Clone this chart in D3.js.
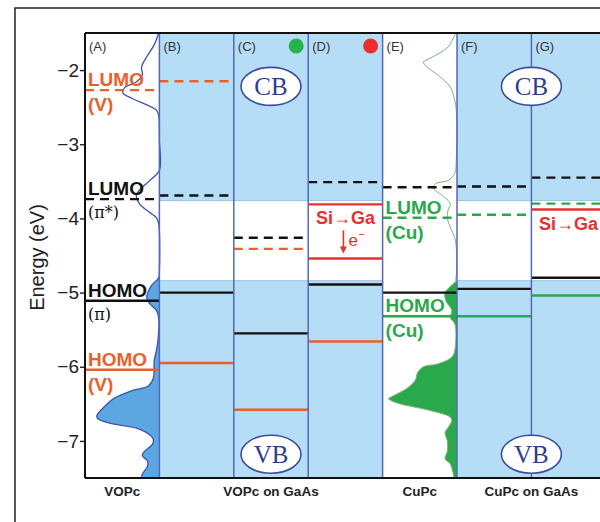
<!DOCTYPE html>
<html>
<head>
<meta charset="utf-8">
<script src="https://cdn.jsdelivr.net/npm/d3@7"></script>
<style>
  body { margin: 0; background: #fff; }
  svg { display: block; font-family: Arial, "Liberation Sans", sans-serif; }
</style>
</head>
<body>
<div id="chart"></div>
<script>
// ---------- data
const columns = ["A", "B", "C", "D", "E", "F", "G"];
const substrateCols = ["B", "C", "D", "F", "G"];
const energyTicks = [-7, -6, -5, -4, -3, -2];

// GaAs band edges (eV)
const cbEdge = -3.76;
const vbEdge = -4.84;

// molecular levels: kind V = vanadyl, pi = Pc ring, Cu = copper, Si = dopant
const levels = [
  { col: "A", e: -2.27, kind: "V",  state: "LUMO" },
  { col: "A", e: -3.74, kind: "pi", state: "LUMO" },
  { col: "A", e: -5.11, kind: "pi", state: "HOMO" },
  { col: "A", e: -6.04, kind: "V",  state: "HOMO" },
  { col: "B", e: -2.15, kind: "V",  state: "LUMO" },
  { col: "B", e: -3.69, kind: "pi", state: "LUMO" },
  { col: "B", e: -5.00, kind: "pi", state: "HOMO" },
  { col: "B", e: -5.95, kind: "V",  state: "HOMO" },
  { col: "C", e: -4.26, kind: "pi", state: "LUMO" },
  { col: "C", e: -4.41, kind: "V",  state: "LUMO" },
  { col: "C", e: -5.55, kind: "pi", state: "HOMO" },
  { col: "C", e: -6.58, kind: "V",  state: "HOMO" },
  { col: "D", e: -3.51, kind: "pi", state: "LUMO" },
  { col: "D", e: -3.81, kind: "Si", state: "Si" },
  { col: "D", e: -4.54, kind: "Si", state: "Si" },
  { col: "D", e: -4.89, kind: "pi", state: "HOMO" },
  { col: "D", e: -5.66, kind: "V",  state: "HOMO" },
  { col: "E", e: -3.58, kind: "pi", state: "LUMO" },
  { col: "E", e: -3.99, kind: "Cu", state: "LUMO" },
  { col: "E", e: -5.00, kind: "pi", state: "HOMO" },
  { col: "E", e: -5.32, kind: "Cu", state: "HOMO" },
  { col: "F", e: -3.57, kind: "pi", state: "LUMO" },
  { col: "F", e: -3.95, kind: "Cu", state: "LUMO" },
  { col: "F", e: -4.95, kind: "pi", state: "HOMO" },
  { col: "F", e: -5.32, kind: "Cu", state: "HOMO" },
  { col: "G", e: -3.45, kind: "pi", state: "LUMO" },
  { col: "G", e: -3.80, kind: "Cu", state: "LUMO" },
  { col: "G", e: -3.88, kind: "Si", state: "Si" },
  { col: "G", e: -4.80, kind: "pi", state: "HOMO" },
  { col: "G", e: -5.04, kind: "Cu", state: "HOMO" }
];

// level names written in the molecule panels
const levelNames = [
  { col: "A", e: -2.27, kind: "V",  title: "LUMO", sub: "(V)" },
  { col: "A", e: -3.74, kind: "pi", title: "LUMO", sub: "(\u03c0*)" },
  { col: "A", e: -5.11, kind: "pi", title: "HOMO", sub: "(\u03c0)" },
  { col: "A", e: -6.04, kind: "V",  title: "HOMO", sub: "(V)" },
  { col: "E", e: -3.99, kind: "Cu", title: "LUMO", sub: "(Cu)" },
  { col: "E", e: -5.32, kind: "Cu", title: "HOMO", sub: "(Cu)" }
];

// density of states, [energy, fraction of panel width]
const dosVOPc = [
  [-1.50, 0.01], [-1.66, 0.07], [-1.82, 0.17], [-1.96, 0.24], [-2.07, 0.23],
  [-2.16, 0.31], [-2.24, 0.47], [-2.31, 0.49], [-2.38, 0.37], [-2.47, 0.17],
  [-2.54, 0.04], [-2.61, 0.01], [-2.95, 0.0], [-3.35, 0.0], [-3.49, 0.13],
  [-3.62, 0.27], [-3.69, 0.31], [-3.80, 0.27], [-3.92, 0.13], [-3.99, 0.04],
  [-4.07, 0.01], [-4.70, 0.0], [-4.80, 0.01], [-4.91, 0.11], [-5.07, 0.17],
  [-5.15, 0.13], [-5.24, 0.04], [-5.34, 0.01], [-5.65, 0.02], [-5.78, 0.04],
  [-5.92, 0.07], [-6.15, 0.08], [-6.26, 0.15], [-6.32, 0.36], [-6.42, 0.60],
  [-6.53, 0.73], [-6.66, 0.84], [-6.70, 0.83], [-6.76, 0.67], [-6.84, 0.27],
  [-6.96, 0.09], [-7.04, 0.09], [-7.14, 0.20], [-7.20, 0.23], [-7.27, 0.16],
  [-7.34, 0.16], [-7.45, 0.23], [-7.50, 0.24]
];
const dosCuPc = [
  [-1.50, 0.01], [-1.53, 0.03], [-1.69, 0.12], [-1.84, 0.36], [-1.89, 0.45],
  [-1.96, 0.40], [-2.07, 0.25], [-2.23, 0.09], [-2.41, 0.03], [-2.54, 0.01],
  [-3.22, 0.01], [-3.39, 0.03], [-3.49, 0.12], [-3.53, 0.29], [-3.59, 0.32],
  [-3.69, 0.20], [-3.80, 0.09], [-3.89, 0.12], [-3.99, 0.13], [-4.12, 0.09],
  [-4.26, 0.03], [-4.39, 0.01], [-4.77, 0.01], [-4.86, 0.03], [-5.00, 0.16],
  [-5.11, 0.15], [-5.24, 0.07], [-5.34, 0.09], [-5.42, 0.03], [-5.70, 0.02],
  [-5.86, 0.06], [-5.96, 0.25], [-6.00, 0.45], [-6.08, 0.53], [-6.18, 0.56],
  [-6.29, 0.67], [-6.41, 0.89], [-6.43, 0.92], [-6.49, 0.80], [-6.59, 0.36],
  [-6.68, 0.09], [-6.73, 0.07], [-6.82, 0.12], [-6.89, 0.16], [-7.00, 0.13],
  [-7.14, 0.13], [-7.24, 0.16], [-7.31, 0.09], [-7.50, 0.04]
];

const groupLabels = [
  { label: "VOPc", cols: ["A"] },
  { label: "VOPc on GaAs", cols: ["B", "C", "D"] },
  { label: "CuPc", cols: ["E"] },
  { label: "CuPc on GaAs", cols: ["F", "G"] }
];

// ---------- dimensions
const width = 600, height = 522;
const margin = { top: 33, left: 85, bottom: 44 };
const colW = 74.4;

const svg = d3.select("#chart").append("svg")
  .attr("width", width).attr("height", height);

// outer frame
svg.append("rect")
  .attr("x", 15).attr("y", 8).attr("width", 640).attr("height", 560)
  .attr("fill", "none").attr("stroke", "#222").attr("stroke-width", 1.5);

const x = d3.scaleBand().domain(columns)
  .range([margin.left, margin.left + colW * columns.length]);
const y = d3.scaleLinear().domain([-7.5, -1.5])
  .range([height - margin.bottom, margin.top]);

const color = d3.scaleOrdinal()
  .domain(["V", "pi", "Cu", "Si"])
  .range(["#e9602c", "#111111", "#2aa84c", "#e8312f"]);

const right = margin.left + colW * columns.length;

// ---------- substrate bands
const bands = svg.append("g");
substrateCols.forEach(c => {
  bands.append("rect")
    .attr("x", x(c)).attr("width", x.bandwidth())
    .attr("y", y(-1.5)).attr("height", y(cbEdge) - y(-1.5))
    .attr("fill", "#b6ddf6");
  bands.append("rect")
    .attr("x", x(c)).attr("width", x.bandwidth())
    .attr("y", y(vbEdge)).attr("height", y(-7.5) - y(vbEdge))
    .attr("fill", "#b6ddf6");
  bands.append("line")
    .attr("x1", x(c)).attr("x2", x(c) + x.bandwidth())
    .attr("y1", y(cbEdge)).attr("y2", y(cbEdge))
    .attr("stroke", "#9cc0e0").attr("stroke-width", 1);
  bands.append("line")
    .attr("x1", x(c)).attr("x2", x(c) + x.bandwidth())
    .attr("y1", y(vbEdge)).attr("y2", y(vbEdge))
    .attr("stroke", "#9cc0e0").attr("stroke-width", 1);
});

// ---------- density of states curves (baseline on right edge of panel)
function drawDos(data, col, fillFrom, lineColor, fillColor, lineW) {
  const x0 = x(col) + x.bandwidth();
  const area = d3.area()
    .y(d => y(d[0]))
    .x0(x0)
    .x1(d => x0 - d[1] * x.bandwidth())
    .curve(d3.curveCatmullRom);
  const line = d3.line()
    .y(d => y(d[0]))
    .x(d => x0 - d[1] * x.bandwidth())
    .curve(d3.curveCatmullRom);
  svg.append("path")
    .attr("d", area(data.filter(d => d[0] <= fillFrom)))
    .attr("fill", fillColor);
  svg.append("path")
    .attr("d", line(data))
    .attr("fill", "none").attr("stroke", lineColor).attr("stroke-width", lineW);
}
drawDos(dosVOPc, "A", -4.75, "#3b52ad", "#5ca7e2", 1.3);
drawDos(dosCuPc, "E", -4.8, "#7db27d", "#2aa84c", 1);

// ---------- energy levels
svg.append("g").selectAll("line")
  .data(levels)
  .join("line")
  .attr("x1", d => x(d.col)).attr("x2", d => x(d.col) + x.bandwidth())
  .attr("y1", d => y(d.e)).attr("y2", d => y(d.e))
  .attr("stroke", d => color(d.kind))
  .attr("stroke-width", 2.4)
  .attr("stroke-dasharray", d => d.state === "LUMO" ? "9,6" : null);

// ---------- column separators
svg.append("g").selectAll("line")
  .data(columns.slice(1))
  .join("line")
  .attr("x1", d => x(d)).attr("x2", d => x(d))
  .attr("y1", y(-1.5)).attr("y2", y(-7.5))
  .attr("stroke", "#5468b8").attr("stroke-width", 1.5);

// ---------- level names
const names = svg.append("g");
levelNames.forEach(d => {
  const tx = x(d.col) + 3;
  names.append("text")
    .attr("x", tx).attr("y", y(d.e) - 4)
    .attr("fill", color(d.kind))
    .attr("font-size", 19).attr("font-weight", "bold")
    .text(d.title);
  const isPi = d.sub.includes("\u03c0");
  names.append("text")
    .attr("x", tx).attr("y", y(d.e) + (isPi ? 19 : 21))
    .attr("fill", color(d.kind))
    .attr("font-family", isPi ? "'DejaVu Serif', 'Liberation Serif', serif" : null)
    .attr("font-size", isPi ? 16 : 19)
    .attr("font-weight", isPi ? "normal" : "bold")
    .text(d.sub);
});

// Si -> Ga dopant notes
const siLevels = levels.filter(d => d.kind === "Si");
[siLevels[0], siLevels[2]].forEach(d => {
  svg.append("text")
    .attr("x", x(d.col) + x.bandwidth() / 2).attr("y", y(d.e) + 20)
    .attr("text-anchor", "middle")
    .attr("fill", color("Si"))
    .attr("font-size", 18).attr("font-weight", "bold")
    .text("Si\u2192Ga");
});
{
  const ax = x("D") + x.bandwidth() / 2 - 2;
  const yTop = y(siLevels[0].e) + 26, yBot = y(siLevels[1].e) - 5;
  svg.append("line")
    .attr("x1", ax).attr("x2", ax).attr("y1", yTop).attr("y2", yBot - 5)
    .attr("stroke", color("Si")).attr("stroke-width", 1.6);
  svg.append("path")
    .attr("d", `M${ax - 3.5},${yBot - 7} L${ax + 3.5},${yBot - 7} L${ax},${yBot} Z`)
    .attr("fill", color("Si"));
  svg.append("text")
    .attr("x", ax + 5).attr("y", yTop + 16)
    .attr("fill", color("Si")).attr("font-size", 17)
    .text("e");
  svg.append("text")
    .attr("x", ax + 15).attr("y", yTop + 8)
    .attr("fill", color("Si")).attr("font-size", 11)
    .text("\u2212");
}

// ---------- CB / VB tags
const tags = [
  { text: "CB", e: -2.22, cx: x("C") + x.bandwidth() / 2 },
  { text: "CB", e: -2.22, cx: x("G") },
  { text: "VB", e: -7.18, cx: x("C") + x.bandwidth() / 2 },
  { text: "VB", e: -7.18, cx: x("G") }
];
const tagG = svg.append("g").selectAll("g").data(tags).join("g")
  .attr("transform", d => `translate(${d.cx},${y(d.e)})`);
tagG.append("ellipse")
  .attr("rx", 30).attr("ry", 19)
  .attr("fill", "#fff").attr("stroke", "#3a4c9e").attr("stroke-width", 1.6);
tagG.append("text")
  .attr("text-anchor", "middle").attr("dy", "0.35em")
  .attr("font-family", "'Liberation Serif', 'DejaVu Serif', serif")
  .attr("font-size", 25).attr("fill", "#2e3d8f")
  .text(d => d.text);

// ---------- panel letters and dots
svg.append("g").selectAll("text")
  .data(columns)
  .join("text")
  .attr("x", d => x(d) + 4).attr("y", margin.top + 18)
  .attr("font-size", 13).attr("fill", "#333")
  .text(d => `(${d})`);
svg.append("circle")
  .attr("cx", x("C") + x.bandwidth() - 12).attr("cy", margin.top + 13).attr("r", 7.5)
  .attr("fill", "#25b34b");
svg.append("circle")
  .attr("cx", x("D") + x.bandwidth() - 12).attr("cy", margin.top + 13).attr("r", 7.5)
  .attr("fill", "#ee2f2f");

// ---------- axis and frame lines
const yAxis = svg.append("g")
  .attr("transform", `translate(${margin.left},0)`)
  .call(d3.axisLeft(y).tickValues(energyTicks).tickSize(5).tickPadding(1)
    .tickFormat(d3.format("d")));
yAxis.select(".domain").remove();
yAxis.selectAll(".tick line").attr("stroke", "#222").attr("stroke-width", 1.4);
yAxis.selectAll(".tick text").attr("font-size", 19).attr("fill", "#222")
  .attr("font-family", "Arial, 'Liberation Sans', sans-serif");

svg.append("line")
  .attr("x1", margin.left).attr("x2", margin.left)
  .attr("y1", y(-1.5)).attr("y2", y(-7.5))
  .attr("stroke", "#111").attr("stroke-width", 2);
svg.append("line")
  .attr("x1", margin.left).attr("x2", right)
  .attr("y1", y(-1.5)).attr("y2", y(-1.5))
  .attr("stroke", "#111").attr("stroke-width", 2);
svg.append("line")
  .attr("x1", margin.left).attr("x2", right)
  .attr("y1", y(-7.5)).attr("y2", y(-7.5))
  .attr("stroke", "#111").attr("stroke-width", 2);

svg.append("text")
  .attr("transform", `translate(44,${(y(-1.5) + y(-7.5)) / 2 + 2}) rotate(-90)`)
  .attr("text-anchor", "middle")
  .attr("font-size", 20).attr("fill", "#222")
  .text("Energy (eV)");

// ---------- group labels under the panels
svg.append("g").selectAll("text")
  .data(groupLabels)
  .join("text")
  .attr("x", d => (x(d.cols[0]) + x(d.cols[d.cols.length - 1]) + x.bandwidth()) / 2)
  .attr("y", y(-7.5) + 18)
  .attr("text-anchor", "middle")
  .attr("font-size", 13.5).attr("font-weight", "bold").attr("fill", "#222")
  .text(d => d.label);
</script>
</body>
</html>
